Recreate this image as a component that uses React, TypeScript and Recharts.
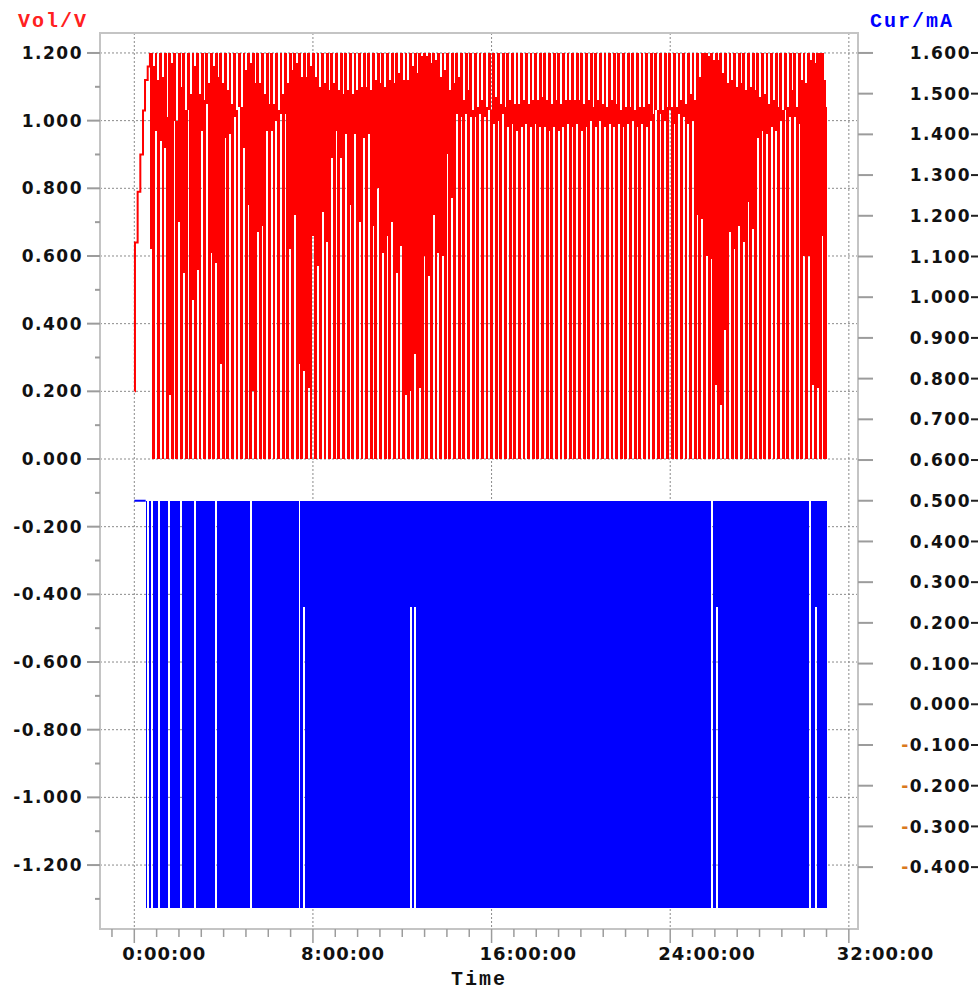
import React from 'react';
import { ComposedChart, Area, Line, XAxis, YAxis, CartesianGrid, ReferenceArea } from 'recharts';

// time in hours
const T_MIN = -1.536;
const T_MAX = 32.41;
const X_TICKS = [-1, 0, 1, 2, 3, 4, 5, 6, 7, 8, 9, 10, 11, 12, 13, 14, 15, 16, 17, 18, 19, 20, 21, 22, 23, 24, 25, 26, 27, 28, 29, 30, 31, 32];
const X_MAJOR = [0, 8, 16, 24, 32];
const X_LABELS = ['0:00:00', '8:00:00', '16:00:00', '24:00:00', '32:00:00'];

// voltage axis (left)
const V_MIN = -1.389;
const V_MAX_AXIS = 1.259;
const V_TICKS = [-1.3, -1.2, -1.1, -1.0, -0.9, -0.8, -0.7, -0.6, -0.5, -0.4, -0.3, -0.2, -0.1, 0, 0.1, 0.2, 0.3, 0.4, 0.5, 0.6, 0.7, 0.8, 0.9, 1.0, 1.1, 1.2];
const V_GRID = [-1.2, -1.0, -0.8, -0.6, -0.4, -0.2, 0, 0.2, 0.4, 0.6, 0.8, 1.0, 1.2];

// current axis (right)
const I_MIN = -0.552;
const I_MAX = 1.649;
const I_TICKS = [-0.4, -0.3, -0.2, -0.1, 0, 0.1, 0.2, 0.3, 0.4, 0.5, 0.6, 0.7, 0.8, 0.9, 1.0, 1.1, 1.2, 1.3, 1.4, 1.5, 1.6];

// first charge, voltage steps
const STAIR_T = [0.02, 0.03, 0.15, 0.27, 0.39, 0.48, 0.6, 0.7];
const STAIR_V = [0.2, 0.64, 0.79, 0.9, 1.03, 1.12, 1.16, 1.2];

// pulse cycles
const CYCLE_T0 = 0.7;
const CYCLE_LEN = 0.2073;
const V_CUTOFF = 1.2;
const LAST_PEAK = 1.04;
// voltage where the trace settles after each charge pulse
const CYCLE_TOP = [
  1.16, 1.12, 1.13, 1.01, 1.17, 1.0, 1.1, 1.03, 1.08, 1.16, 1.08, 1.06, 1.11, 1.16, 1.13, 1.11, 1.09,
  1.05, 1.03, 1.04, 1.15, 1.17, 1.11, 1.11, 1.08, 1.05, 1.05, 1.03, 1.08, 1.11, 1.15, 1.17, 1.13, 1.13,
  1.16, 1.13, 1.1, 1.11, 1.09, 1.11, 1.09, 1.08, 1.09, 1.08, 1.09, 1.1, 1.1, 1.09, 1.12, 1.11, 1.1,
  1.12, 1.11, 1.14, 1.12, 1.12, 1.16, 1.14, 1.19, 1.19, 1.17, 1.18, 1.13, 1.15, 1.09, 1.11, 1.13, 1.06,
  1.09, 1.03, 1.04, 1.06,
  1.04, 1.03, 1.07, 1.05, 1.04, 1.06, 1.05, 1.05, 1.06, 1.05, 1.06, 1.06, 1.07, 1.06, 1.05, 1.06, 1.05,
  1.06, 1.06, 1.06, 1.06, 1.05, 1.06, 1.04, 1.06, 1.05, 1.04, 1.06, 1.05, 1.03, 1.04, 1.04, 1.03, 1.04,
  1.04, 1.05, 1.02, 1.03,
  1.03, 1.04, 1.04, 1.04, 1.06, 1.05, 1.08, 1.06, 1.13, 1.2, 1.19, 1.18, 1.18, 1.14, 1.11, 1.12, 1.1,
  1.11, 1.09, 1.1, 1.09, 1.07, 1.08, 1.05, 1.06, 1.04, 1.03, 1.04, 1.09, 1.04, 1.12, 1.11, 1.18, 1.17,
  1.2, 1.12,
];
// voltage reached at the start of each charge pulse
const CYCLE_BOTTOM = [
  0.62, 0.97, 0.94, 0.92, 0.19, 1.0, 0.7, 0.55, 1.03, 0.47, 0.56, 0.97, 1.05, 0.61, 0.58, 0.28, 0.95,
  0.96, 1.01, 1.04, 0.92, 0.75, 0.2, 0.67, 0.69, 0.97, 0.97, 1.0, 1.02, 1.02, 0.62, 0.72, 0.28, 0.26,
  0.21, 0.66, 0.57, 0.73, 0.64, 0.89, 0.97, 0.89, 0.96, 0.75, 0.96, 0.7, 0.95, 0.96, 0.69, 0.8, 0.61,
  0.66, 0.7, 0.55, 0.63, 0.19, 0.2, 0.31, 0.21, 0.6, 0.54, 0.72, 0.61, 0.6, 0.9, 0.77, 1.02, 1.01,
  1.02, 1.01, 1.01, 1.02,
  1.01, 1.03, 0.99, 1.0, 1.02, 0.98, 0.99, 0.97, 0.98, 0.99, 0.98, 0.99, 0.98, 0.98, 0.97, 0.98, 0.97,
  0.98, 0.99, 0.98, 0.99, 0.97, 0.98, 1.0, 0.98, 1.0, 0.98, 0.99, 0.98, 0.99, 0.98, 0.99, 1.0, 0.98,
  0.99, 0.98, 1.0, 1.03,
  1.02, 1.0, 1.03, 0.99, 1.02, 1.01, 0.99, 1.0, 0.72, 0.71, 0.6, 0.59, 0.22, 0.16, 0.38, 0.67, 0.62,
  0.69, 0.64, 0.76, 0.68, 0.95, 0.97, 0.96, 0.98, 0.97, 1.0, 1.03, 1.01, 1.01, 0.99, 0.6, 0.6, 0.22,
  0.21, 0.66,
];

// current: +/-0.5 mA pulses, dense enough to look solid, with longer gaps
const I_PULSE = 0.5;
const BLUE_START = 0.51;
const BLUE_END = 31.0;
const SLIT_START = [0.56, 0.75, 1.08, 1.52, 2.05, 2.69, 3.61, 5.18, 7.36, 7.57, 12.35, 12.54, 25.83, 26.05, 30.22, 30.48];
const SLIT_END = [0.67, 0.82, 1.15, 1.6, 2.14, 2.78, 3.69, 5.27, 7.43, 7.66, 12.44, 12.63, 25.92, 26.14, 30.31, 30.57];
const SLIT_TOP = [0.5, 0.5, 0.5, 0.5, 0.5, 0.5, 0.5, 0.5, 0.5, 0.24, 0.24, 0.24, 0.5, 0.24, 0.5, 0.24];

const stairData = STAIR_T.map((t, i) => ({ t, v: STAIR_V[i] }));

// each cycle: pulse edge, rest gap below, pulse edge, rest gap above
const redData: { t: number; v: [number, number] }[] = [];
CYCLE_TOP.forEach((top, i) => {
  const t = CYCLE_T0 + i * CYCLE_LEN;
  redData.push({ t, v: [0, V_CUTOFF] });
  redData.push({ t: t + CYCLE_LEN * 0.12, v: [CYCLE_BOTTOM[i], V_CUTOFF] });
  redData.push({ t: t + CYCLE_LEN * 0.5, v: [0, V_CUTOFF] });
  redData.push({ t: t + CYCLE_LEN * 0.62, v: [0, top] });
});
const tLast = CYCLE_T0 + CYCLE_TOP.length * CYCLE_LEN;
redData.push({ t: tLast, v: [0, LAST_PEAK] });
redData.push({ t: tLast + CYCLE_LEN * 0.3, v: [0, LAST_PEAK] });

const blueData: { t: number; c: [number, number] }[] = [{ t: BLUE_START, c: [-I_PULSE, I_PULSE] }];
SLIT_START.forEach((s, i) => {
  blueData.push({ t: s, c: [SLIT_TOP[i], I_PULSE] });
  blueData.push({ t: SLIT_END[i], c: [-I_PULSE, I_PULSE] });
});
blueData.push({ t: BLUE_END, c: [-I_PULSE, I_PULSE] });

const blueLead = [
  { t: 0, c: I_PULSE },
  { t: BLUE_START, c: I_PULSE },
];

const LABEL_FONT = {
  fontFamily: 'DejaVu Sans',
  fontWeight: 'bold' as const,
  fontSize: 17,
  letterSpacing: 1.5,
  fill: '#111',
};

const TICK_GRAY = '#9c9c9c';

const fmt = (v: number) => Math.abs(v).toFixed(3);

const LeftTick = (props: any) => {
  const { x, y, payload } = props;
  const v = payload.value;
  const major = Math.round(Math.abs(v) * 10) % 2 === 0;
  return (
    <g>
      <line x1={x - (major ? 13 : 5)} x2={x} y1={y} y2={y} stroke={TICK_GRAY} strokeWidth={2} />
      {major && (
        <text x={x - 17} y={y} dy="0.36em" textAnchor="end" {...LABEL_FONT}>
          {v < 0 ? '-' : ''}
          {fmt(v)}
        </text>
      )}
    </g>
  );
};

const RightTick = (props: any) => {
  const { x, y, payload } = props;
  const v = payload.value;
  return (
    <g>
      <line x1={x} x2={x + 15} y1={y} y2={y} stroke={TICK_GRAY} strokeWidth={2} />
      <text x={x + 113} y={y} dy="0.36em" textAnchor="end" {...LABEL_FONT}>
        {v < 0 && <tspan fill="#d9781e">-</tspan>}
        <tspan>{fmt(v)}</tspan>
      </text>
      <line x1={x + 113} x2={x + 120} y1={y} y2={y} stroke="#222" strokeWidth={2} />
    </g>
  );
};

const TimeTick = (props: any) => {
  const { x, y, payload } = props;
  const idx = X_MAJOR.indexOf(payload.value);
  const major = idx >= 0;
  return (
    <g>
      <line x1={x} x2={x} y1={y} y2={y + (major ? 14 : 8)} stroke={TICK_GRAY} strokeWidth={1.5} />
      {major && (
        <text x={x - 12} y={y + 31} textAnchor="start" {...LABEL_FONT} fontSize={18} letterSpacing={1}>
          {X_LABELS[idx]}
        </text>
      )}
    </g>
  );
};

const TITLE_FONT = {
  fontFamily: 'Liberation Mono',
  fontWeight: 'bold' as const,
  fontSize: 20,
  letterSpacing: 2,
};

const App: React.FC = () => {
  return (
    <div style={{ position: 'absolute', left: 0, top: 0, width: 978, height: 990, background: '#fff' }}>
      <style>{`.crisp path { shape-rendering: crispEdges; }`}</style>
      <ComposedChart width={978} height={990} margin={{ top: 33, right: 60, bottom: 31, left: 40 }}>
        <CartesianGrid
          yAxisId="left"
          horizontalValues={V_GRID}
          verticalValues={X_MAJOR}
          stroke="#8a8a8a"
          strokeDasharray="2 2"
        />
        <XAxis
          dataKey="t"
          type="number"
          domain={[T_MIN, T_MAX]}
          allowDataOverflow
          ticks={X_TICKS}
          interval={0}
          tick={<TimeTick />}
          tickLine={false}
          axisLine={false}
          tickSize={0}
          tickMargin={0}
          height={30}
        />
        <YAxis
          yAxisId="left"
          type="number"
          domain={[V_MIN, V_MAX_AXIS]}
          allowDataOverflow
          ticks={V_TICKS}
          interval={0}
          tick={<LeftTick />}
          tickLine={false}
          axisLine={false}
          tickSize={0}
          tickMargin={0}
          width={60}
        />
        <YAxis
          yAxisId="right"
          orientation="right"
          type="number"
          domain={[I_MIN, I_MAX]}
          allowDataOverflow
          ticks={I_TICKS}
          interval={0}
          tick={<RightTick />}
          tickLine={false}
          axisLine={false}
          tickSize={0}
          tickMargin={0}
          width={60}
        />
        <Area
          className="crisp"
          yAxisId="left"
          data={redData}
          dataKey="v"
          type="stepAfter"
          stroke="none"
          fill="#ff0000"
          fillOpacity={1}
          isAnimationActive={false}
          activeDot={false}
        />
        <Line
          yAxisId="left"
          data={stairData}
          dataKey="v"
          type="stepAfter"
          stroke="#ff0000"
          strokeWidth={2}
          dot={false}
          activeDot={false}
          isAnimationActive={false}
        />
        <Area
          className="crisp"
          yAxisId="right"
          data={blueData}
          dataKey="c"
          type="stepAfter"
          stroke="none"
          fill="#0000ff"
          fillOpacity={1}
          isAnimationActive={false}
          activeDot={false}
        />
        <Line
          yAxisId="right"
          data={blueLead}
          dataKey="c"
          stroke="#0000ff"
          strokeWidth={2}
          dot={false}
          activeDot={false}
          isAnimationActive={false}
        />
        <ReferenceArea
          yAxisId="left"
          x1={T_MIN}
          x2={T_MAX}
          y1={V_MIN}
          y2={V_MAX_AXIS}
          fill="none"
          stroke="#c4c4c4"
          strokeWidth={2}
        />
      </ComposedChart>
      <svg width={978} height={990} style={{ position: 'absolute', left: 0, top: 0, pointerEvents: 'none' }}>
        <text x={18} y={27} fill="#ff2020" {...TITLE_FONT}>
          Vol/V
        </text>
        <text x={870} y={27} fill="#0000ff" {...TITLE_FONT}>
          Cur/mA
        </text>
        <text x={479} y={985} textAnchor="middle" fill="#111" {...TITLE_FONT}>
          Time
        </text>
      </svg>
    </div>
  );
};

export default App;
